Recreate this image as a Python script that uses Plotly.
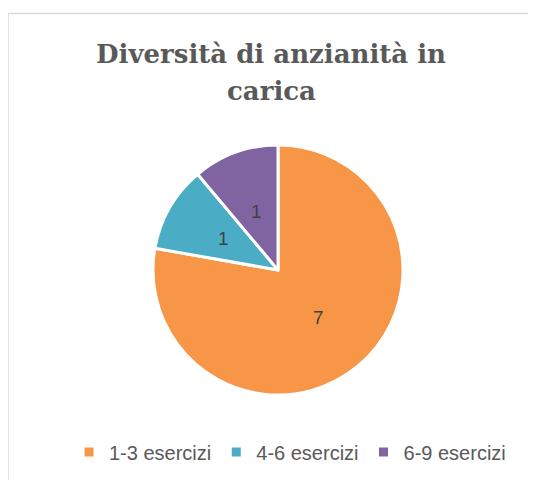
import math
import plotly.graph_objects as go

categories = ["1-3 esercizi", "4-6 esercizi", "6-9 esercizi"]
values = [7, 1, 1]
colors = ["#F79646", "#4BACC6", "#8064A2"]
title_lines = ["Diversità di anzianità in", "carica"]

# page body has an 8px margin; figure sized to fit the 536x480 window
OFF = 8
W, H = 536 - OFF, 480 - OFF
cx, cy, r = 278 - OFF, 270 - OFF, 125

fig = go.Figure(go.Pie(
    labels=categories,
    values=values,
    sort=False,
    direction="clockwise",
    rotation=0,
    marker=dict(colors=colors, line=dict(color="white", width=3)),
    textinfo="none",
    domain=dict(x=[(cx - r) / W, (cx + r) / W], y=[(H - cy - r) / H, (H - cy + r) / H]),
    hoverinfo="label+value",
))

# data labels placed at half radius on each slice's mid-angle (clockwise from top)
total = sum(values)
start = 0.0
annotations = []
for v in values:
    mid = (start + v / 2) / total * 2 * math.pi
    start += v
    px = cx + 0.5 * r * math.sin(mid)
    py = cy - 0.5 * r * math.cos(mid)
    annotations.append(dict(x=px / W, y=1 - py / H, xref="paper", yref="paper",
                            text=str(v), showarrow=False,
                            font=dict(family="Liberation Sans", size=19, color="#404040")))

# title, two centred lines
for line, ly in zip(title_lines, [54, 91]):
    annotations.append(dict(x=(271 - OFF) / W, y=1 - (ly - OFF) / H, xref="paper", yref="paper",
                            xanchor="center", yanchor="middle", showarrow=False,
                            text="<b>" + line + "</b>",
                            font=dict(family="DejaVu Serif", size=26, color="#595959")))

fig.update_layout(
    width=W, height=H,
    margin=dict(l=0, r=0, t=0, b=0),
    paper_bgcolor="white",
    showlegend=True,
    legend=dict(orientation="h", x=(290 - OFF) / W, xanchor="center", y=1 - (452 - OFF) / H,
                yanchor="middle",
                font=dict(family="Liberation Sans", size=20, color="#595959"),
                itemwidth=30, tracegroupgap=0),
    annotations=annotations,
    shapes=[dict(type="rect", xref="paper", yref="paper",
                 x0=0.0, x1=1.05, y0=-0.05, y1=1 - (13.5 - OFF) / H,
                 line=dict(color="#D9D9D9", width=1.5), fillcolor="rgba(0,0,0,0)")],
)

fig.write_html("out.html")
